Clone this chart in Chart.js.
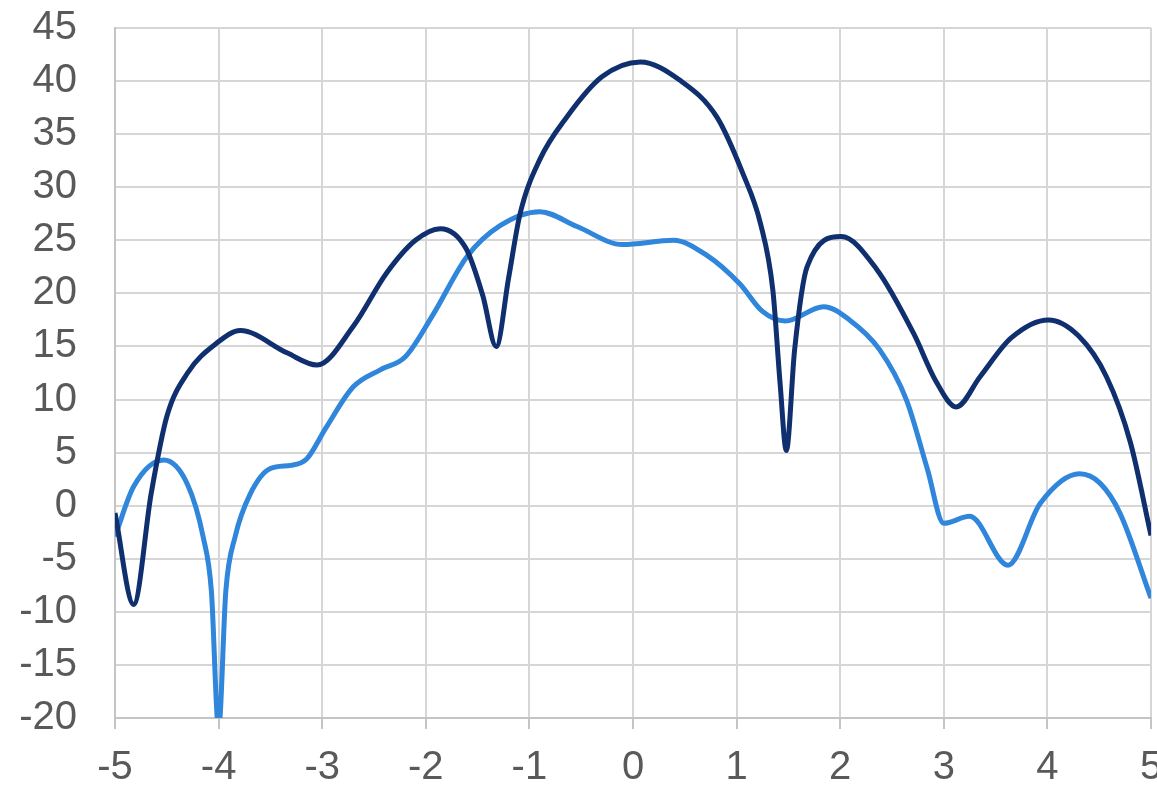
<!DOCTYPE html>
<html>
<head>
<meta charset="utf-8">
<script src="https://cdn.jsdelivr.net/npm/chart.js@4/dist/chart.umd.min.js"></script>
<style>
html,body{margin:0;padding:0;background:#fff;}
#wrap{width:1157px;height:788px;position:relative;}
</style>
</head>
<body>
<div id="wrap"><canvas id="c" width="1157" height="788"></canvas></div>
<script>
const xTicks = [-5,-4,-3,-2,-1,0,1,2,3,4,5];
const yTicks = [-20,-15,-10,-5,0,5,10,15,20,25,30,35,40,45];

const darkX = [-5,-4.82,-4.65,-4.5,-4.3,-4.02,-3.79,-3.34,-3.05,-2.7,-2.38,-2.1,-1.86,-1.61,-1.45,-1.32,-1.2,-1.09,-0.9,-0.64,-0.3,0.07,0.45,0.81,1.06,1.23,1.35,1.42,1.48,1.56,1.68,2.01,2.35,2.71,2.92,3.12,3.35,3.65,4.01,4.3,4.57,4.8,5];
const darkY = [-0.7,-9.3,1.2,8.4,12.5,15.3,16.5,14.4,13.25,16.9,21.9,25.0,26.1,24.2,19.8,15.0,21.5,27.5,32.6,36.6,40.4,41.8,40.1,36.6,31.3,26.6,20.3,11.5,5.2,14.7,22.5,25.35,22.3,16.2,11.8,9.3,12.15,15.8,17.5,16.0,12.15,6.0,-2.8];

const lightX = [-5,-4.82,-4.53,-4.3,-4.15,-4.07,-4.0,-3.93,-3.84,-3.7,-3.5,-3.3,-3.15,-2.96,-2.7,-2.44,-2.2,-1.93,-1.6,-1.28,-0.9,-0.54,-0.1,0.39,0.71,1.03,1.25,1.47,1.84,2.09,2.38,2.64,2.84,3.0,3.25,3.62,3.93,4.31,4.51,4.7,5];
const lightY = [-2.9,1.8,4.3,2.0,-2.9,-8.0,-21,-8.0,-2.9,1.0,3.5,3.8,4.4,7.4,11.2,12.8,14.0,18.0,23.5,26.4,27.7,26.3,24.6,25.0,23.6,20.9,18.3,17.4,18.75,17.5,14.7,9.95,3.5,-1.66,-1.0,-5.6,0.2,3.0,2.1,-0.7,-8.7];

const darkColor = '#0f2f6e';
const lightColor = '#2f86db';

function pts(xs, ys){ return xs.map((x,i)=>({x:x, y:ys[i]})); }

const tickFont = {family:'"Liberation Sans", Arial, sans-serif', size:40};

new Chart(document.getElementById('c'), {
  type: 'line',
  data: {
    datasets: [
      {label:'A', data: pts(darkX, darkY), borderColor: darkColor, borderWidth: 5, pointRadius: 0, cubicInterpolationMode: 'monotone', fill:false},
      {label:'B', data: pts(lightX, lightY), borderColor: lightColor, borderWidth: 5, pointRadius: 0, cubicInterpolationMode: 'monotone', fill:false}
    ]
  },
  options: {
    responsive: false,
    animation: false,
    events: [],
    layout: {padding: {left: 0, top: 28, right: 6, bottom: 0}},
    plugins: {legend: {display:false}, tooltip:{enabled:false}, title:{display:false}},
    scales: {
      x: {
        type: 'linear',
        min: -5, max: 5,
        afterBuildTicks: s => { s.ticks = xTicks.map(v=>({value:v})); },
        afterFit: s => { s.height = 70; s.paddingLeft = 0; s.paddingRight = 0; },
        grid: {color:'#d6d6d6', lineWidth:2, drawTicks:true, tickLength:11, tickColor:'#c4c4c4'},
        border: {color:'#c4c4c4', width:2},
        ticks: {color:'#595959', font: tickFont, padding: 15, maxRotation:0, autoSkip:false}
      },
      y: {
        type: 'linear',
        min: -20, max: 45,
        afterBuildTicks: s => { s.ticks = yTicks.map(v=>({value:v})); },
        afterFit: s => { s.width = 115; s.paddingTop = 0; s.paddingBottom = 0; },
        grid: {color:'#d6d6d6', lineWidth:2, drawTicks:false},
        border: {color:'#c4c4c4', width:2},
        ticks: {color:'#595959', font: tickFont, padding: 38, autoSkip:false}
      }
    }
  }
});
</script>
</body>
</html>
